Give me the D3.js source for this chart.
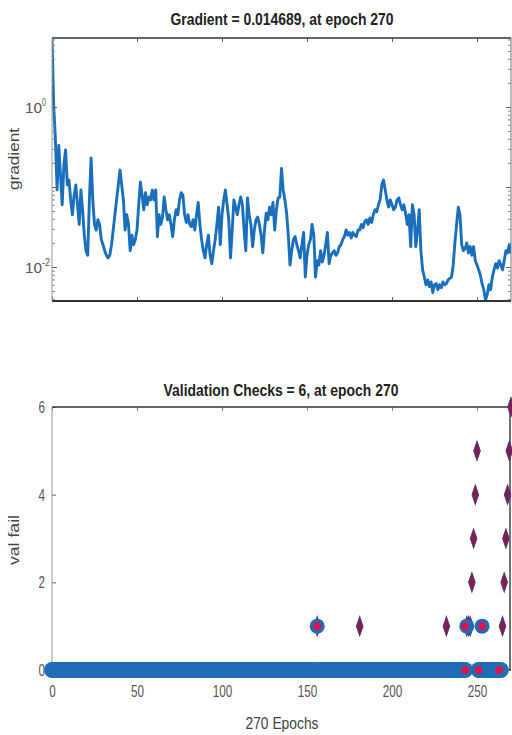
<!DOCTYPE html>
<html><head><meta charset="utf-8">
<script src="https://cdn.jsdelivr.net/npm/d3@7"></script>
<style>body{margin:0;background:#fff}svg{display:block}</style>
</head><body>
<svg id="c" width="512" height="735"></svg>
<script>
// ---------- data ----------
const gradient = [
6.9,1.06,0.39,0.092,0.33,0.14,0.060,0.19,0.29,0.106,
0.122,0.069,0.045,0.079,0.106,0.060,0.034,0.092,0.052,0.025,
0.016,0.014,0.069,0.23,0.069,0.034,0.029,0.039,0.034,0.022,
0.019,0.016,0.014,0.013,0.014,0.019,0.029,0.045,0.069,0.106,
0.163,0.106,0.069,0.029,0.045,0.034,0.016,0.025,0.019,0.022,
0.029,0.060,0.115,0.079,0.052,0.085,0.060,0.075,0.069,0.092,
0.069,0.092,0.024,0.045,0.034,0.042,0.075,0.052,0.039,0.045,
0.034,0.024,0.039,0.052,0.045,0.069,0.085,0.079,0.045,0.036,
0.045,0.034,0.032,0.039,0.029,0.045,0.064,0.034,0.022,0.016,
0.013,0.019,0.025,0.014,0.011,0.016,0.022,0.034,0.056,0.019,
0.045,0.069,0.092,0.060,0.039,0.013,0.029,0.069,0.056,0.045,
0.060,0.075,0.060,0.029,0.016,0.073,0.045,0.034,0.018,0.029,
0.039,0.042,0.034,0.025,0.015,0.029,0.047,0.039,0.056,0.045,
0.064,0.029,0.052,0.073,0.075,0.17,0.092,0.069,0.047,0.025,
0.0106,0.016,0.022,0.024,0.019,0.016,0.013,0.019,0.027,0.0075,
0.014,0.019,0.022,0.034,0.025,0.0075,0.012,0.0106,0.016,0.0115,
0.014,0.019,0.027,0.011,0.014,0.015,0.016,0.014,0.015,0.018,
0.019,0.022,0.024,0.029,0.025,0.027,0.023,0.027,0.025,0.024,
0.029,0.029,0.034,0.031,0.037,0.039,0.034,0.041,0.036,0.045,
0.052,0.049,0.060,0.069,0.106,0.122,0.092,0.069,0.056,0.069,
0.060,0.052,0.056,0.069,0.073,0.060,0.052,0.060,0.047,0.034,
0.045,0.018,0.060,0.045,0.018,0.029,0.052,0.016,0.0092,0.0075,
0.0060,0.0069,0.0057,0.0065,0.0048,0.0060,0.0062,0.0052,0.0060,0.0055,
0.0065,0.0060,0.0062,0.0069,0.0072,0.0075,0.0106,0.020,0.034,0.056,
0.045,0.019,0.016,0.017,0.020,0.015,0.018,0.014,0.018,0.012,
0.0106,0.0092,0.0079,0.0062,0.0052,0.0039,0.0045,0.0060,0.0052,0.0075,
0.0092,0.011,0.0097,0.012,0.0106,0.0092,0.012,0.016,0.015,0.019,
0.014689];
const epochCount = 270;
const xTicks = [0, 50, 100, 150, 200, 250];
const gradMajorTicks = [0.01, 0.1, 1];
const gradTickLabels = [{v: 1, base: "10", exp: "0"}, {v: 0.01, base: "10", exp: "-2"}];
// validation checks: epochs with non-zero value (all other epochs are 0)
const valNZEpochs = [156, 181, 232, 244, 245, 246, 247, 248, 249, 250, 265, 266, 267, 268, 269, 270];
const valNZValues = [1, 1, 1, 1, 1, 1, 2, 3, 4, 5, 1, 2, 3, 4, 5, 6];
const valTicks = [0, 2, 4, 6];
const extraBlue = [[156, 1], [244, 1], [253, 1]];
const redDots = [[243, 0], [251, 0], [263, 0], [156, 1], [243, 1], [253, 1]];
const titles = ["Gradient = 0.014689, at epoch 270", "Validation Checks = 6, at epoch 270"];
const yLabels = ["gradient", "val fail"];
const xLabel = "270 Epochs";

// ---------- layout ----------
const svg = d3.select("#c");
const FONT = "'Liberation Sans Narrow','Liberation Sans',Arial,sans-serif";
const L = 52, R = 511;
const P1 = {top: 38, bottom: 301};
const P2 = {top: 407, bottom: 670};
const x = d3.scaleLinear().domain([0, epochCount]).range([L, R]);
const yG = d3.scaleLog().domain([Math.pow(10, -2.425), Math.pow(10, 0.8625)]).range([P1.bottom, P1.top]);
const yV = d3.scaleLinear().domain([0, 6]).range([P2.bottom, P2.top]);

function squeeze(sel, perChar) {
  sel.attr("textLength", function(){ return this.textContent.length * perChar; })
     .attr("lengthAdjust", "spacingAndGlyphs");
}

// ---------- top plot ----------
svg.append("defs").append("clipPath").attr("id", "clip1")
  .append("rect").attr("x", L).attr("y", P1.top).attr("width", R - L).attr("height", P1.bottom - P1.top);

const minorG = [];
for (let p = -3; p <= 0; p++) for (let k = 2; k <= 9; k++) {
  const v = k * Math.pow(10, p);
  if (v > yG.domain()[0] && v < yG.domain()[1]) minorG.push(v);
}

const g1 = svg.append("g");
g1.append("path").datum(gradient)
  .attr("clip-path", "url(#clip1)")
  .attr("fill", "none").attr("stroke", "#1a6fbd").attr("stroke-width", 2.9)
  .attr("stroke-linejoin", "round")
  .attr("d", d3.line().x((d, i) => x(i)).y(d => yG(d)));

function styleAxis(sel, color, w) {
  sel.select(".domain").remove();
  sel.selectAll("line").attr("stroke", color).attr("stroke-width", w);
}
// x ticks top & bottom
g1.append("g").attr("transform", `translate(0,${P1.bottom})`)
  .call(d3.axisBottom(x).tickValues(xTicks).tickSize(-4).tickFormat("")).call(styleAxis, "#666", 1);
g1.append("g").attr("transform", `translate(0,${P1.top})`)
  .call(d3.axisTop(x).tickValues(xTicks).tickSize(-4).tickFormat("")).call(styleAxis, "#666", 1);
// y ticks left/right
g1.append("g").attr("transform", `translate(${L},0)`)
  .call(d3.axisLeft(yG).tickValues(gradMajorTicks).tickSize(-5).tickFormat("")).call(styleAxis, "#666", 1);
g1.append("g").attr("transform", `translate(${L},0)`)
  .call(d3.axisLeft(yG).tickValues(minorG).tickSize(-3).tickFormat("")).call(styleAxis, "#888", 1);
g1.append("g").attr("transform", `translate(${R},0)`)
  .call(d3.axisRight(yG).tickValues(gradMajorTicks).tickSize(-5).tickFormat("")).call(styleAxis, "#666", 1);
g1.append("g").attr("transform", `translate(${R},0)`)
  .call(d3.axisRight(yG).tickValues(minorG).tickSize(-3).tickFormat("")).call(styleAxis, "#888", 1);
// frame
g1.append("line").attr("x1", L).attr("x2", R).attr("y1", P1.top).attr("y2", P1.top).attr("stroke", "#333").attr("stroke-width", 1.5);
g1.append("line").attr("x1", L).attr("x2", R).attr("y1", P1.bottom).attr("y2", P1.bottom).attr("stroke", "#333").attr("stroke-width", 2);
g1.append("line").attr("x1", L).attr("x2", L).attr("y1", P1.top).attr("y2", P1.bottom).attr("stroke", "#999").attr("stroke-width", 1);
g1.append("line").attr("x1", R).attr("x2", R).attr("y1", P1.top).attr("y2", P1.bottom).attr("stroke", "#777").attr("stroke-width", 1);
// y tick labels (10^n)
gradTickLabels.forEach(t => {
  const tx = g1.append("text").attr("font-family", FONT).attr("fill", "#555")
    .attr("x", 25).attr("y", yG(t.v) + 6).attr("font-size", 15);
  tx.append("tspan").text(t.base).attr("textLength", 17).attr("lengthAdjust", "spacingAndGlyphs");
  tx.append("tspan").text(t.exp).attr("font-size", 10).attr("dy", -7)
    .attr("textLength", t.exp.length * 4).attr("lengthAdjust", "spacingAndGlyphs");
});
// title & ylabel
svg.append("text").text(titles[0]).attr("x", 282).attr("y", 25).attr("text-anchor", "middle")
  .attr("font-family", FONT).attr("font-weight", "bold").attr("font-size", 17).attr("fill", "#222")
  .attr("textLength", 223).attr("lengthAdjust", "spacingAndGlyphs");
svg.append("text").text(yLabels[0]).attr("transform", `translate(19,159) rotate(-90)`)
  .attr("text-anchor", "middle").attr("font-family", "'Liberation Sans',Arial,sans-serif").attr("font-size", 15).attr("fill", "#444")
  .attr("textLength", 62).attr("lengthAdjust", "spacingAndGlyphs");

// ---------- bottom plot ----------
const valFail = d3.range(epochCount + 1).map(e => {
  const i = valNZEpochs.indexOf(e);
  return i >= 0 ? valNZValues[i] : 0;
});
const g2 = svg.append("g");
// axes
const xa = g2.append("g").attr("transform", `translate(0,${P2.bottom})`)
  .call(d3.axisBottom(x).tickValues(xTicks).tickSize(-4).tickPadding(15).tickFormat(d3.format("d")));
xa.call(styleAxis, "#666", 1);
xa.selectAll("text").attr("font-family", FONT).attr("font-size", 17).attr("fill", "#555").call(squeeze, 6.5);
g2.append("g").attr("transform", `translate(0,${P2.top})`)
  .call(d3.axisTop(x).tickValues(xTicks).tickSize(-4).tickFormat("")).call(styleAxis, "#888", 1);
const ya = g2.append("g").attr("transform", `translate(${L},0)`)
  .call(d3.axisLeft(yV).tickValues(valTicks).tickSize(-4).tickPadding(7).tickFormat(d3.format("d")));
ya.call(styleAxis, "#666", 1);
ya.selectAll("text").attr("font-family", FONT).attr("font-size", 17).attr("fill", "#555").call(squeeze, 6.5);
g2.append("line").attr("x1", L).attr("x2", R).attr("y1", P2.top).attr("y2", P2.top).attr("stroke", "#333").attr("stroke-width", 1.5);
g2.append("line").attr("x1", L).attr("x2", R).attr("y1", P2.bottom).attr("y2", P2.bottom).attr("stroke", "#333").attr("stroke-width", 1.5);
g2.append("line").attr("x1", L).attr("x2", L).attr("y1", P2.top).attr("y2", P2.bottom).attr("stroke", "#999").attr("stroke-width", 1);
g2.append("line").attr("x1", R - 1).attr("x2", R - 1).attr("y1", P2.top).attr("y2", P2.bottom).attr("stroke", "#444").attr("stroke-width", 1.5);

const BLUE = "#1f6db6";
// blue circles at zero-valued epochs
g2.selectAll("circle.z").data(valFail.map((v, i) => [i, v]).filter(d => d[1] === 0))
  .join("circle").attr("class", "z")
  .attr("cx", d => x(d[0])).attr("cy", d => yV(d[1])).attr("r", 8).attr("fill", BLUE);
// diamonds at non-zero epochs
const dia = d3.symbol().type(d3.symbolDiamond).size(60);
g2.selectAll("path.d").data(valFail.map((v, i) => [i, v]).filter(d => d[1] > 0))
  .join("path").attr("class", "d")
  .attr("transform", d => `translate(${x(d[0])},${yV(d[1])}) scale(0.8,1.35)`)
  .attr("d", dia).attr("fill", "#7e2152").attr("stroke", "#4f3370").attr("stroke-width", 1);
// extra blue circles
g2.selectAll("circle.b").data(extraBlue).join("circle").attr("class", "b")
  .attr("cx", d => x(d[0])).attr("cy", d => yV(d[1])).attr("r", 7.5).attr("fill", BLUE);
// red dots
g2.selectAll("circle.r").data(redDots).join("circle").attr("class", "r")
  .attr("cx", d => x(d[0])).attr("cy", d => yV(d[1])).attr("r", 4).attr("fill", "#d8174f");

// title, labels
svg.append("text").text(titles[1]).attr("x", 281).attr("y", 396).attr("text-anchor", "middle")
  .attr("font-family", FONT).attr("font-weight", "bold").attr("font-size", 17).attr("fill", "#222")
  .attr("textLength", 235).attr("lengthAdjust", "spacingAndGlyphs");
svg.append("text").text(yLabels[1]).attr("transform", `translate(19,540) rotate(-90)`)
  .attr("text-anchor", "middle").attr("font-family", "'Liberation Sans',Arial,sans-serif").attr("font-size", 15).attr("fill", "#444")
  .attr("textLength", 50).attr("lengthAdjust", "spacingAndGlyphs");
svg.append("text").text(xLabel).attr("x", 282).attr("y", 729).attr("text-anchor", "middle")
  .attr("font-family", FONT).attr("font-size", 17).attr("fill", "#444")
  .attr("textLength", 73).attr("lengthAdjust", "spacingAndGlyphs");
</script>
</body></html>
